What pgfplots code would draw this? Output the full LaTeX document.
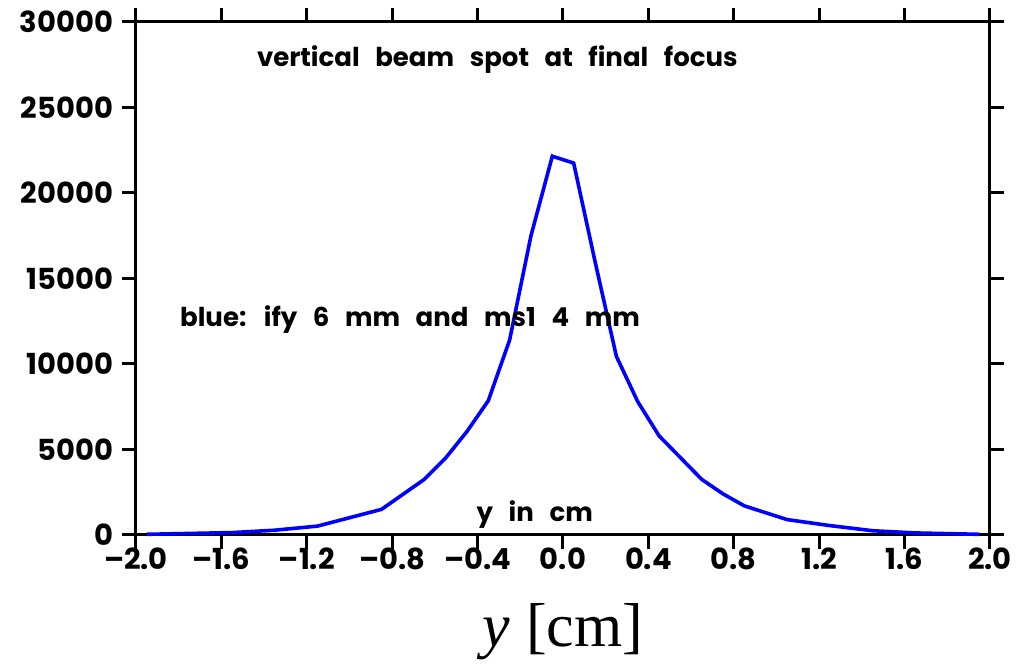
\documentclass[border=0pt]{standalone}
\usepackage{pgfplots}
\pgfplotsset{compat=1.18}
\usepackage{fontspec}
\setmainfont{Poppins}
\newfontfamily\serifmain{Liberation Serif}
\newcommand{\txt}{\bfseries\fontsize{13}{16}\selectfont\spaceskip=0.6em\relax}
\begin{document}
\begin{tikzpicture}
\begin{axis}[
  scale only axis,
  width=427pt, height=256.5pt,
  xmin=-2, xmax=2, ymin=0, ymax=30000,
  axis line style={line width=1.5pt},
  every tick/.style={black, line width=1.5pt},
  tick align=outside,
  major tick length=7pt,
  xtick={-2,-1.6,-1.2,-0.8,-0.4,0,0.4,0.8,1.2,1.6,2},
  xticklabels={–2.0,–1.6,–1.2,–0.8,–0.4,0.0,0.4,0.8,1.2,1.6,2.0},
  ytick={0,5000,10000,15000,20000,25000,30000},
  yticklabels={0,5000,10000,15000,20000,25000,30000},
  scaled y ticks=false,
  tick label style={font=\bfseries\fontsize{14.5}{17}\selectfont},
  xticklabel style={yshift=4pt},
  yticklabel style={xshift=-1pt},
  xtick pos=both, ytick pos=both,
  xticklabel pos=bottom, yticklabel pos=left,
  xlabel={\serifmain\fontsize{31}{33}\selectfont\textit{y} [cm]},
  xlabel style={yshift=-10pt},
  clip=false,
]
\addplot[blue, line width=1.8pt] coordinates {
(-1.95,40) (-1.55,140) (-1.35,280) (-1.15,520) (-0.85,1500) (-0.65,3250)
(-0.55,4500) (-0.45,6050) (-0.35,7850) (-0.25,11400) (-0.15,17500)
(-0.05,22150) (0.05,21750) (0.15,16000) (0.25,10450) (0.35,7800)
(0.45,5800) (0.65,3250) (0.75,2400) (0.85,1700) (1.05,900) (1.25,550)
(1.45,250) (1.65,120) (1.95,40)
};
\node[anchor=west, inner sep=0pt, font=\txt] at (axis cs:-1.435,27800) {vertical beam spot at final focus};
\node[anchor=west, inner sep=0pt, font=\txt] at (axis cs:-1.795,12600) {blue: ify 6 mm and ms1 4 mm};
\node[anchor=west, inner sep=0pt, font=\txt] at (axis cs:-0.406,1170) {y in cm};
\end{axis}
\path (-68pt,-65pt) rectangle (444.5pt,267.5pt);
\end{tikzpicture}
\end{document}
